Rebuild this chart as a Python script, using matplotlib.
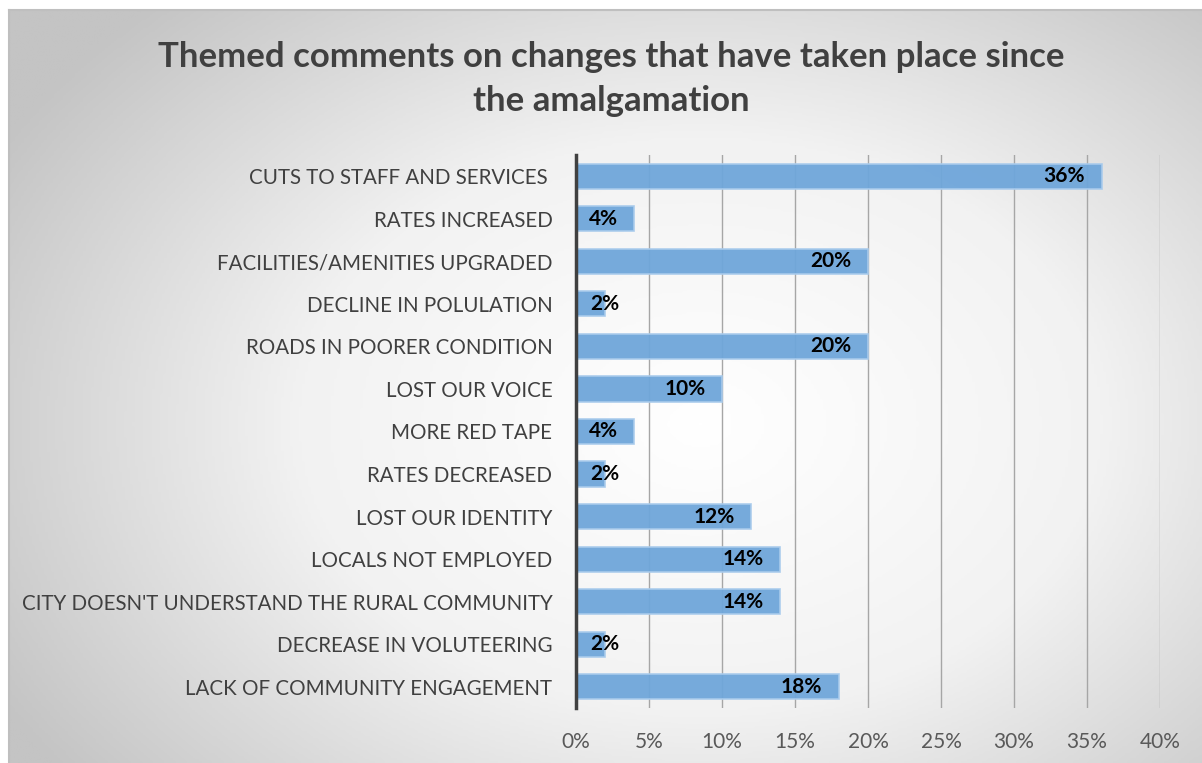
import numpy as np
import matplotlib
matplotlib.use("Agg")
import matplotlib.pyplot as plt
from matplotlib.colors import LinearSegmentedColormap

categories = [
    "CUTS TO STAFF AND SERVICES ",
    "RATES INCREASED",
    "FACILITIES/AMENITIES UPGRADED",
    "DECLINE IN POLULATION",
    "ROADS IN POORER CONDITION",
    "LOST OUR VOICE",
    "MORE RED TAPE",
    "RATES DECREASED",
    "LOST OUR IDENTITY",
    "LOCALS NOT EMPLOYED",
    "CITY DOESN'T UNDERSTAND THE RURAL COMMUNITY",
    "DECREASE IN VOLUTEERING",
    "LACK OF COMMUNITY ENGAGEMENT",
]
values = [36, 4, 20, 2, 20, 10, 4, 2, 12, 14, 14, 2, 18]
xticks = [0, 5, 10, 15, 20, 25, 30, 35, 40]
title = "Themed comments on changes that have taken place since\nthe amalgamation"

plt.rcParams["font.family"] = ["Lato", "DejaVu Sans"]

W, H = 1202, 763
fig = plt.figure(figsize=(W / 100, H / 100), dpi=100)
fig.patch.set_facecolor("white")

# radial-gradient panel behind the chart
x0, y0 = 9, 10
bg = fig.add_axes([x0 / W, 0, (W - x0) / W, (H - y0) / H], zorder=0)
gx, gy = np.meshgrid(np.linspace(0, 1, 400), np.linspace(0, 1, 300))
r = np.sqrt(((gx - 0.58) / 0.75) ** 2 + ((gy - 0.55) / 0.85) ** 2)
r = np.clip(r / 0.9, 0, 1)
cmap = LinearSegmentedColormap.from_list("bg", ["#ffffff", "#f2f2f2", "#c4c4c4"], N=256)
bg.imshow(r, cmap=cmap, vmin=0, vmax=1, aspect="auto", extent=[0, 1, 0, 1], origin="upper")
bg.set_xlim(0, 1)
bg.set_ylim(0, 1)
bg.set_xticks([])
bg.set_yticks([])
for s in ["left", "top"]:
    bg.spines[s].set_color("#bfbfbf")
    bg.spines[s].set_linewidth(1.5)
for s in ["right", "bottom"]:
    bg.spines[s].set_visible(False)

ax = fig.add_axes([576 / W, 1 - 708 / H, (1160 - 576) / W, (708 - 155) / H], zorder=1)
ax.patch.set_alpha(0)

y = np.arange(len(categories))
ax.barh(y, values, height=0.59, color="#6fa6da", edgecolor="#a9cbec",
        linewidth=1.2, alpha=0.95, zorder=3)

ax.set_xlim(0, 40)
ax.set_ylim(len(categories) - 0.5, -0.5)
ax.set_xticks(xticks)
ax.set_xticklabels([f"{t}%" for t in xticks])
ax.set_yticks(y)
ax.set_yticklabels(categories)
ax.tick_params(axis="x", length=0, pad=17, labelsize=15, labelcolor="#595959")
ax.tick_params(axis="y", length=0, pad=17, labelsize=14.8, labelcolor="#404040")

ax.grid(axis="x", color="#a6a6a6", linewidth=1, zorder=0)
ax.set_axisbelow(True)
for s in ["top", "right", "bottom"]:
    ax.spines[s].set_visible(False)
ax.spines["left"].set_color("#404040")
ax.spines["left"].set_linewidth(2.5)
ax.spines["left"].set_zorder(5)

for yi, v in zip(y, values):
    if v >= 4:
        ax.annotate(f"{v}%", xy=(v, yi), xytext=(-12, 0), textcoords="offset points",
                    ha="right", va="center", fontsize=15, fontweight="bold",
                    color="black", zorder=6)
    else:
        ax.annotate(f"{v}%", xy=(0, yi), xytext=(10, 0), textcoords="offset points",
                    ha="left", va="center", fontsize=15, fontweight="bold",
                    color="black", zorder=6)

fig.text(611 / W, 1 - 79 / H, title, ha="center", va="center", fontsize=25,
         fontweight="bold", color="#404040", linespacing=1.45)

fig.savefig("out.png", dpi=100)
